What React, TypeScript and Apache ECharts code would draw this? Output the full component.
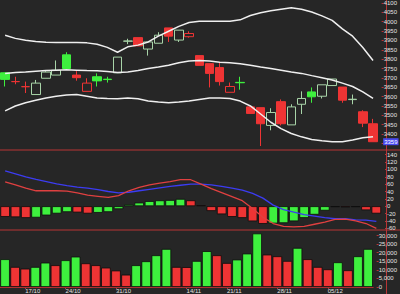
import React, { useEffect, useRef } from 'react';
import * as echarts from 'echarts';

// ---- data ----
const opens = [3727, 3680, 3653, 3611, 3698, 3715, 3823, 3715, 3628, 3706, 3693, 3727, 3896, 3915, 3854, 3885, 3967, 3902, 3920, 3819, 3776, 3755, 3623, 3676, 3545, 3541, 3446, 3573, 3449, 3559, 3625, 3602, 3659, 3651, 3584, 3519, 3455];
const closes = [3692, 3680, 3653, 3672, 3731, 3741, 3750, 3701, 3672, 3684, 3691, 3811, 3897, 3871, 3892, 3928, 3923, 3955, 3937, 3767, 3724, 3680, 3654, 3674, 3510, 3455, 3515, 3455, 3545, 3590, 3599, 3663, 3694, 3581, 3586, 3458, 3359];
const lows = [3654, 3666, 3619, 3611, 3698, 3715, 3750, 3685, 3628, 3654, 3675, 3727, 3880, 3871, 3819, 3885, 3892, 3892, 3915, 3767, 3649, 3659, 3623, 3637, 3510, 3336, 3420, 3446, 3449, 3507, 3567, 3590, 3659, 3567, 3559, 3437, 3359];
const highs = [3728, 3706, 3680, 3689, 3736, 3793, 3837, 3736, 3698, 3724, 3706, 3811, 3909, 3915, 3892, 3944, 3967, 3955, 3949, 3819, 3776, 3781, 3675, 3706, 3545, 3541, 3538, 3585, 3559, 3628, 3649, 3663, 3694, 3651, 3611, 3527, 3481];

const bollUpper = [3928, 3911, 3901, 3894, 3890, 3889, 3889, 3889, 3887, 3880, 3863, 3837, 3866, 3875, 3892, 3923, 3949, 3975, 3996, 4002, 4002, 4002, 4003, 4010, 4033, 4048, 4059, 4067, 4074, 4067, 4052, 4031, 4007, 3962, 3923, 3862, 3793];
const bollMid = [3724, 3729, 3732, 3736, 3739, 3741, 3743, 3741, 3739, 3738, 3734, 3729, 3732, 3739, 3750, 3758, 3767, 3781, 3790, 3793, 3790, 3784, 3781, 3776, 3767, 3758, 3750, 3741, 3732, 3724, 3712, 3701, 3689, 3672, 3654, 3625, 3590];
const bollLower = [3524, 3550, 3567, 3581, 3593, 3602, 3609, 3611, 3602, 3593, 3590, 3588, 3593, 3588, 3576, 3571, 3567, 3571, 3576, 3585, 3593, 3593, 3590, 3576, 3550, 3507, 3463, 3429, 3403, 3385, 3371, 3364, 3359, 3359, 3368, 3380, 3385];

const macdLine = [66, 58, 49, 42, 42, 42, 41, 36, 30, 27, 24, 29, 42, 51, 58, 63, 67, 72, 72, 60, 48, 37, 26, 15, -6, -30, -47, -55, -56, -55, -49, -43, -36, -35, -40, -47, -60];
const signalLine = [96, 88, 80, 73, 67, 61, 56, 52, 49, 45, 40, 36, 38, 42, 46, 50, 54, 57, 60, 60, 58, 54, 49, 44, 35, 22, 3, -9, -16, -23, -27, -31, -34, -34, -37, -38, -41];
const macdHist = [-29, -30, -32, -31, -25, -20, -16, -17, -20, -18, -16, -8, 5, 10, 14, 16, 17, 20, 16, 3, -13, -22, -29, -32, -41, -48, -47, -46, -41, -32, -23, -12, -2, -3, -2, -11, -20];

const volumes = [16200, 11700, 10700, 11700, 14200, 12700, 15600, 17700, 13800, 12700, 11300, 9600, 7200, 12700, 15000, 18500, 22200, 11700, 11600, 15200, 20900, 18500, 14000, 16000, 19500, 31200, 18900, 17900, 15200, 22800, 16200, 11700, 10300, 14400, 9750, 17900, 22200];

const dateLabels = ['17/10', '24/10', '31/10', '14/11', '21/11', '28/11', '05/12'];
const dateLabelIdx = [2, 6, 11, 18, 22, 27, 32];

const categories = opens.map((_, i) => {
  const k = dateLabelIdx.indexOf(i);
  return k >= 0 ? dateLabels[k] : 'd' + i;
});

// ---- styles ----
const RED = '#ee3434';
const GREEN = '#3ef03e';
const PALE = '#a8d4a8';
const AXIS = '#b83434';
const BG = '#262626';
const TXT = '#e4e4e4';
const FONT = 'Liberation Sans, Arial, sans-serif';

const candleData = opens.map((o, i) => {
  const c = closes[i];
  const up = i === 0 ? true : c > closes[i - 1];
  const col = up ? GREEN : RED;
  const hollow = c >= o;
  const fill = hollow ? 'rgba(0,0,0,0)' : col;
  const border = hollow ? (up ? PALE : RED) : col;
  return {
    value: [o, c, lows[i], highs[i]],
    itemStyle: { color: fill, color0: fill, borderColor: border, borderColor0: border, borderColorDoji: border, borderWidth: 1 },
  };
});

const histData = macdHist.map((v, i) => ({
  value: v,
  itemStyle: { color: i === 0 || v < macdHist[i - 1] ? RED : GREEN },
}));

const volData = volumes.map((v, i) => ({
  value: v,
  itemStyle: { color: i === 0 || v > volumes[i - 1] ? GREEN : RED },
}));

const GL = -4.3;
const GR = 17;

const showDate = (i: number) => dateLabelIdx.indexOf(i) >= 0;

const yAxisBase = {
  type: 'value',
  position: 'right',
  offset: 3.5,
  scale: true,
  splitLine: { show: false },
  axisLine: { show: false },
  axisTick: { show: true, length: 2, lineStyle: { color: AXIS } },
  axisLabel: { color: TXT, fontSize: 6, margin: 2, fontFamily: FONT },
};

const option: any = {
  animation: false,
  backgroundColor: BG,
  grid: [
    { left: GL, right: GR, top: -0.6, height: 144 },
    { left: GL, right: GR, top: 154.7, height: 73.6 },
    { left: GL, right: GR, top: 235.5, height: 52 },
  ],
  xAxis: [
    { type: 'category', gridIndex: 0, data: categories, boundaryGap: true, show: false },
    { type: 'category', gridIndex: 1, data: categories, boundaryGap: true, show: false },
    {
      type: 'category', gridIndex: 2, data: categories, boundaryGap: true,
      axisLine: { show: true, lineStyle: { color: AXIS, width: 1 } },
      axisTick: { show: true, alignWithLabel: true, interval: (i: number) => showDate(i), length: 2, lineStyle: { color: AXIS } },
      axisLabel: { interval: (i: number) => showDate(i), align: 'left', color: TXT, fontSize: 6, margin: 1, fontFamily: FONT },
      splitLine: { show: false },
    },
  ],
  yAxis: [
    { ...yAxisBase, gridIndex: 0, min: 3350, max: 4100, interval: 50,
      axisLabel: { ...yAxisBase.axisLabel, formatter: (v: number) => (v >= 3400 ? String(v) : '') } },
    { ...yAxisBase, gridIndex: 1, min: -60, max: 140, interval: 20 },
    { ...yAxisBase, gridIndex: 2, min: 0, max: 30000, interval: 5000 },
  ],
  series: [
    { type: 'line', xAxisIndex: 0, yAxisIndex: 0, data: bollUpper, symbol: 'none', silent: true, lineStyle: { color: '#efefef', width: 1.5 } },
    { type: 'line', xAxisIndex: 0, yAxisIndex: 0, data: bollMid, symbol: 'none', silent: true, lineStyle: { color: '#efefef', width: 1.5 } },
    { type: 'line', xAxisIndex: 0, yAxisIndex: 0, data: bollLower, symbol: 'none', silent: true, lineStyle: { color: '#efefef', width: 1.5 } },
    {
      type: 'candlestick', xAxisIndex: 0, yAxisIndex: 0, data: candleData, barWidth: 9, clip: false,
      markLine: {
        silent: true, symbol: ['none', 'none'],
        lineStyle: { color: 'rgba(0,0,0,0)', width: 0 },
        data: [{ yAxis: closes[closes.length - 1] }],
        label: {
          show: true, position: 'end', distance: 5,
          formatter: (p: any) => String(Math.round(p.value)),
          color: '#ffffff', backgroundColor: '#4a4af0', fontSize: 6, padding: [1, 1, 0, 1], fontFamily: FONT,
        },
      },
    },
    { type: 'line', xAxisIndex: 1, yAxisIndex: 1, data: signalLine, symbol: 'none', clip: false, lineStyle: { color: '#3c3cf2', width: 1.3 } },
    { type: 'line', xAxisIndex: 1, yAxisIndex: 1, data: macdLine, symbol: 'none', clip: false, lineStyle: { color: '#e04040', width: 1.3 } },
    { type: 'bar', xAxisIndex: 1, yAxisIndex: 1, data: histData, barWidth: 9.6, itemStyle: { borderColor: '#0c0c0c', borderWidth: 0.8 } },
    { type: 'bar', xAxisIndex: 2, yAxisIndex: 2, data: volData, barWidth: 9.6, clip: false, itemStyle: { borderColor: '#0c0c0c', borderWidth: 0.8 } },
  ],
  graphic: [
    { type: 'line', silent: true, shape: { x1: 386.5, y1: 0, x2: 386.5, y2: 294 }, style: { stroke: AXIS, lineWidth: 1 } },
    { type: 'line', silent: true, shape: { x1: 0, y1: 150, x2: 400, y2: 150 }, style: { stroke: AXIS, lineWidth: 1 } },
    { type: 'line', silent: true, shape: { x1: 0, y1: 230, x2: 400, y2: 230 }, style: { stroke: AXIS, lineWidth: 1 } },
  ],
};

export default function App() {
  const ref = useRef<HTMLDivElement>(null);
  useEffect(() => {
    const chart = echarts.init(ref.current as HTMLDivElement, null, { renderer: 'svg' });
    chart.setOption(option);
    return () => chart.dispose();
  }, []);
  return <div ref={ref} style={{ position: 'absolute', left: 0, top: 0, width: 400, height: 294 }} />;
}
